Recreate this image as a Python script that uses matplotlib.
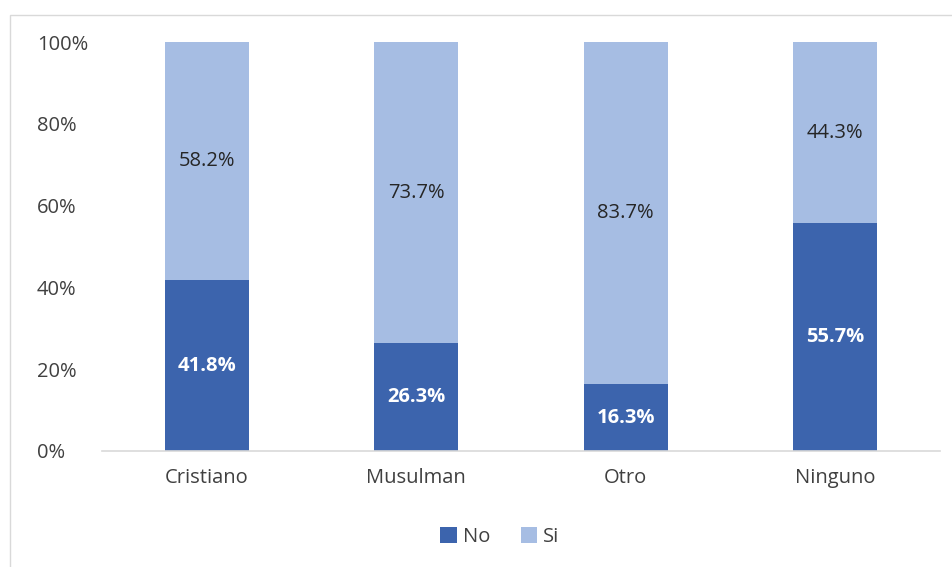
import matplotlib.pyplot as plt
from matplotlib.patches import Rectangle
import numpy as np

categorias = ['Cristiano', 'Musulman', 'Otro', 'Ninguno']
no_vals = [41.8, 26.3, 16.3, 55.7]
si_vals = [58.2, 73.7, 83.7, 44.3]
series = ['No', 'Si']
colores = ['#3C64AD', '#A6BDE3']

plt.rcParams['font.family'] = ['Open Sans', 'DejaVu Sans']
fs = 14.5

fig = plt.figure(figsize=(9.52, 5.67), dpi=100)
# borde del area del grafico
fig.patches.append(Rectangle((10 / 952, -0.1), 1.2, 1 - 15 / 567 + 0.1,
                             transform=fig.transFigure, fill=False,
                             edgecolor='#D9D9D9', linewidth=1))
ax = fig.add_axes([102 / 952, 1 - 451 / 567, (940 - 102) / 952, (451 - 42) / 567])

x = np.arange(len(categorias))
b1 = ax.bar(x, no_vals, width=0.4, color=colores[0], label=series[0])
b2 = ax.bar(x, si_vals, width=0.4, bottom=no_vals, color=colores[1], label=series[1])

for i in range(len(categorias)):
    ax.text(x[i], no_vals[i] / 2, '{:.1f}%'.format(no_vals[i]), ha='center', va='center',
            color='white', fontsize=fs, fontweight='bold')
    ax.text(x[i], no_vals[i] + si_vals[i] / 2, '{:.1f}%'.format(si_vals[i]), ha='center',
            va='center', color='#262626', fontsize=fs)

ax.set_xlim(-0.5, 3.5)
ax.set_ylim(0, 100)
ax.set_yticks([0, 20, 40, 60, 80, 100])
ax.set_yticklabels(['0%', '20%', '40%', '60%', '80%', '100%'])
ax.set_xticks(x)
ax.set_xticklabels(categorias)
for lbl in ax.get_yticklabels():
    lbl.set_horizontalalignment('left')
ax.tick_params(axis='y', length=0, pad=47, labelsize=fs, labelcolor='#404040')
ax.tick_params(axis='x', length=0, pad=12, labelsize=fs, labelcolor='#404040')

for s in ['top', 'right', 'left']:
    ax.spines[s].set_visible(False)
ax.spines['bottom'].set_color('#D9D9D9')
ax.spines['bottom'].set_linewidth(1.2)

fig.legend(handles=[b1, b2], labels=series, loc='center', bbox_to_anchor=(500 / 952, 1 - 537 / 567),
           ncol=2, frameon=False, fontsize=fs, handlelength=0.8, handleheight=0.8,
           handletextpad=0.3, columnspacing=1.55, labelcolor='#404040')

fig.savefig('out.png', dpi=100)
